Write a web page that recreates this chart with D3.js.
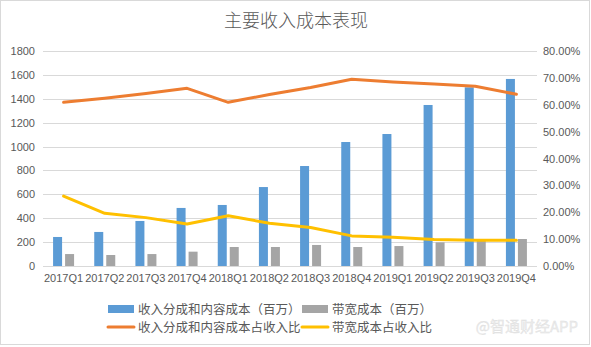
<!DOCTYPE html>
<html><head><meta charset="utf-8">
<script src="https://cdn.jsdelivr.net/npm/d3@7"></script>
<style>
html,body{margin:0;padding:0;background:#fff;}
svg{display:block;font-family:"Microsoft YaHei","Noto Sans CJK SC","Liberation Sans",sans-serif;}
</style></head>
<body><svg id="c" width="591" height="347"></svg>
<script>
const categories = ["2017Q1","2017Q2","2017Q3","2017Q4","2018Q1","2018Q2","2018Q3","2018Q4","2019Q1","2019Q2","2019Q3","2019Q4"];
const revenueShareCost = [243,285,377,486,511,661,837,1038,1105,1348,1496,1566];
const bandwidthCost = [100,92,100,120,159,159,176,159,167,198,212,226];
const revenueShareRatio = [60.9,62.4,64.2,66.1,60.9,63.8,66.4,69.5,68.5,67.7,66.9,63.9];
const bandwidthRatio = [26.0,19.6,18.0,15.6,18.7,15.9,14.3,11.2,10.7,9.9,9.6,9.6];
const leftTicks = [0,200,400,600,800,1000,1200,1400,1600,1800];
const rightTicks = [0,10,20,30,40,50,60,70,80];
const seriesNames = ["收入分成和内容成本（百万）","带宽成本（百万）","收入分成和内容成本占收入比","带宽成本占收入比"];
const title = "主要收入成本表现";
const watermark = "@智通财经APP";

const colors = ["#5b9bd5","#a5a5a5","#ed7d31","#ffc000"];
const svg = d3.select("#c");
const W=591,H=347;
const m={l:43,r:537,t:51,b:266};

svg.append("rect").attr("x",0.5).attr("y",0.5).attr("width",W-2).attr("height",H-3)
  .attr("fill","#fff").attr("stroke","#d9d9d9");

const x = d3.scaleBand().domain(categories).range([m.l,m.r]);
const y = d3.scaleLinear().domain([0,1800]).range([m.b,m.t]);
const y2 = d3.scaleLinear().domain([0,80]).range([m.b,m.t]);

// gridlines
svg.append("g").selectAll("line").data(leftTicks).join("line")
  .attr("x1",m.l).attr("x2",m.r).attr("y1",d=>Math.round(y(d))+0.5).attr("y2",d=>Math.round(y(d))+0.5)
  .attr("stroke","#d9d9d9").attr("stroke-width",1);

const axisFont = "'Liberation Sans',Arial,sans-serif";
// left axis
const la = svg.append("g").attr("transform",`translate(${m.l-8},0)`)
  .call(d3.axisLeft(y).tickValues(leftTicks).tickSize(0).tickPadding(0).tickFormat(d3.format("d")));
la.select(".domain").remove();
la.selectAll("text").attr("fill","#595959").style("font-size","11px").style("font-family",axisFont);

// right axis
const ra = svg.append("g").attr("transform",`translate(${m.r+6},0)`)
  .call(d3.axisRight(y2).tickValues(rightTicks).tickSize(0).tickPadding(0).tickFormat(d=>d.toFixed(2)+"%"));
ra.select(".domain").remove();
ra.selectAll("text").attr("fill","#595959").style("font-size","11px").style("font-family",axisFont);

// x axis
const xa = svg.append("g").attr("transform",`translate(0,${m.b+8})`)
  .call(d3.axisBottom(x).tickSize(0).tickPadding(0));
xa.select(".domain").remove();
xa.selectAll("text").attr("fill","#595959").style("font-size","11px").style("font-family",axisFont);

// bars
const bw = 9, gap = 3;
svg.append("g").selectAll("rect").data(revenueShareCost).join("rect")
  .attr("x",(d,i)=>x(categories[i])+x.bandwidth()/2-gap/2-bw)
  .attr("y",d=>y(d)).attr("width",bw).attr("height",d=>y(0)-y(d)).attr("fill",colors[0]);
svg.append("g").selectAll("rect").data(bandwidthCost).join("rect")
  .attr("x",(d,i)=>x(categories[i])+x.bandwidth()/2+gap/2)
  .attr("y",d=>y(d)).attr("width",bw).attr("height",d=>y(0)-y(d)).attr("fill",colors[1]);

// lines
const line = d3.line().x((d,i)=>x(categories[i])+x.bandwidth()/2).y(d=>y2(d));
svg.append("path").datum(revenueShareRatio).attr("d",line).attr("fill","none")
  .attr("stroke",colors[2]).attr("stroke-width",3).attr("stroke-linejoin","round").attr("stroke-linecap","round");
svg.append("path").datum(bandwidthRatio).attr("d",line).attr("fill","none")
  .attr("stroke",colors[3]).attr("stroke-width",3).attr("stroke-linejoin","round").attr("stroke-linecap","round");

// title
svg.append("text").attr("x",296).attr("y",27).attr("text-anchor","middle")
  .attr("fill","#595959").style("font-size","18px").style("font-weight","300").text(title);

// legend
const leg = [
  {x:108,y:309,type:"rect",c:colors[0],t:seriesNames[0]},
  {x:302,y:309,type:"rect",c:colors[1],t:seriesNames[1]},
  {x:108,y:327,type:"line",c:colors[2],t:seriesNames[2]},
  {x:302,y:327,type:"line",c:colors[3],t:seriesNames[3]}
];
const lg = svg.append("g").selectAll("g").data(leg).join("g").attr("transform",d=>`translate(${d.x},${d.y})`);
lg.filter(d=>d.type==="rect").append("rect").attr("x",0).attr("y",-4).attr("width",26).attr("height",8).attr("fill",d=>d.c);
lg.filter(d=>d.type==="line").append("line").attr("x1",0).attr("x2",26).attr("y1",0).attr("y2",0)
  .attr("stroke",d=>d.c).attr("stroke-width",3).attr("stroke-linecap","round");
lg.append("text").attr("x",30).attr("y",4.5).attr("fill","#595959").style("font-size","12.5px").text(d=>d.t);

// watermark
svg.append("text").attr("x",578).attr("y",332).attr("text-anchor","end")
  .attr("fill","#ececec").attr("stroke","#dcdcdc").attr("stroke-width",0.3)
  .style("font-size","15px").text(watermark);
</script></body></html>
